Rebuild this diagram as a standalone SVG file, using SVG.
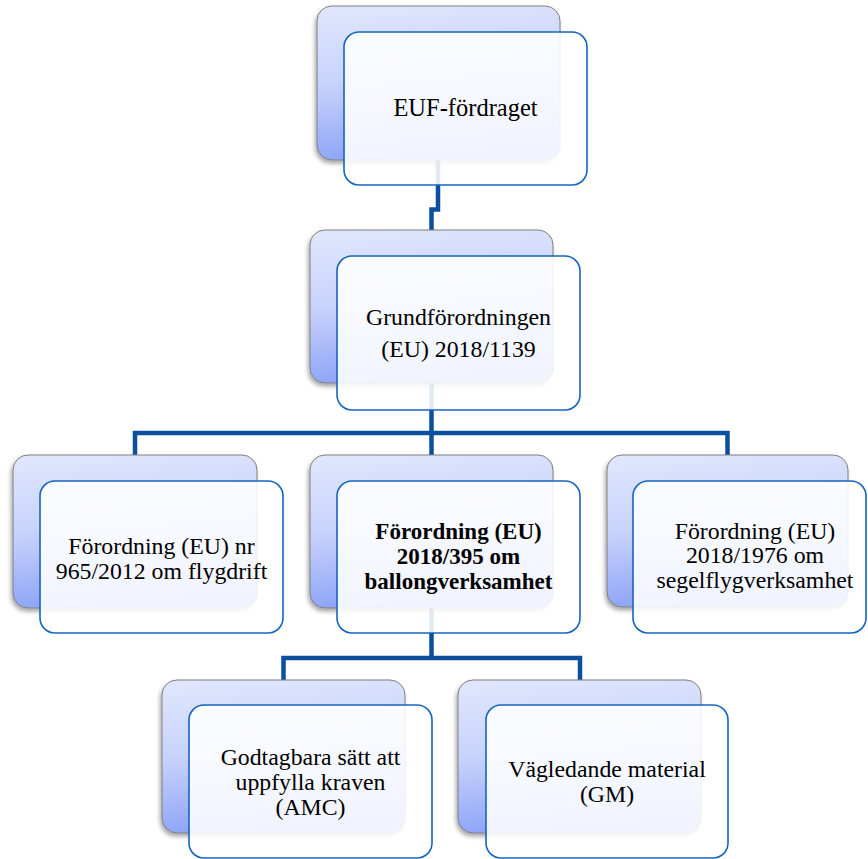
<svg xmlns="http://www.w3.org/2000/svg" width="868" height="859" viewBox="0 0 868 859">
<defs>
<linearGradient id="bg" x1="0" y1="0" x2="0.15" y2="1">
<stop offset="0" stop-color="#E1E7FD"/>
<stop offset="0.5" stop-color="#C8D3FB"/>
<stop offset="1" stop-color="#8EA4F8"/>
</linearGradient>
<filter id="sh" x="-10%" y="-10%" width="120%" height="125%">
<feDropShadow dx="-1.5" dy="3" stdDeviation="2" flood-color="#000" flood-opacity="0.35"/>
</filter>
</defs>
<style>
.back{fill:url(#bg);stroke:#7F7F7F;stroke-width:1;filter:url(#sh)}
.front{fill:#FFFFFF;fill-opacity:0.88;stroke:#1565C0;stroke-width:1.6}
.conn{fill:none;stroke:#0B4F9E;stroke-width:4.5;stroke-linejoin:miter}
text{font-family:"Liberation Serif","Times New Roman",serif;font-size:23.8px;fill:#000;text-anchor:middle}
.b{font-weight:bold;font-size:23px}
</style>
<rect width="868" height="859" fill="#FFFFFF"/>
<g id="connectors">
<path class="conn" d="M438,160 V209.5 H431.5 V230"/>
<path class="conn" d="M431.5,383 V433 M135,455 V433 H727.5 V455 M431.5,433 V455"/>
<path class="conn" d="M431.5,608 V658 M283.5,680 V658 H580 V680"/>
</g>
<g id="node-euf">
<rect class="back" x="317" y="6" width="243" height="154" rx="15"/>
<rect class="front" x="344" y="32" width="243" height="153" rx="15"/>
<text x="465.5" y="116" style="font-size:24.5px">EUF-fördraget</text>
</g>
<g id="node-grund">
<rect class="back" x="310" y="230" width="243" height="153" rx="15"/>
<rect class="front" x="337" y="256" width="243" height="154" rx="15"/>
<text x="458.5" y="325">Grundförordningen</text>
<text x="458.5" y="357">(EU) 2018/1139</text>
</g>
<g id="node-965">
<rect class="back" x="13" y="455" width="244" height="153" rx="15"/>
<rect class="front" x="40" y="481" width="243" height="152" rx="15"/>
<text x="161.5" y="554">Förordning (EU) nr</text>
<text x="161.5" y="579">965/2012 om flygdrift</text>
</g>
<g id="node-395">
<rect class="back" x="310" y="455" width="243" height="153" rx="15"/>
<rect class="front" x="337" y="481" width="243" height="152" rx="15"/>
<text class="b" x="458.5" y="539">Förordning (EU)</text>
<text class="b" x="458.5" y="564">2018/395 om</text>
<text class="b" x="458.5" y="589">ballongverksamhet</text>
</g>
<g id="node-1976">
<rect class="back" x="607" y="455" width="241" height="152" rx="15"/>
<rect class="front" x="633" y="481" width="233" height="152" rx="15"/>
<text x="755" y="539">Förordning (EU)</text>
<text x="755" y="563">2018/1976 om</text>
<text x="755" y="588">segelflygverksamhet</text>
</g>
<g id="node-amc">
<rect class="back" x="162" y="680" width="243" height="153" rx="15"/>
<rect class="front" x="189" y="705" width="243" height="153" rx="15"/>
<text x="310.5" y="765">Godtagbara sätt att</text>
<text x="310.5" y="790">uppfylla kraven</text>
<text x="310.5" y="815">(AMC)</text>
</g>
<g id="node-gm">
<rect class="back" x="458" y="680" width="243" height="153" rx="15"/>
<rect class="front" x="486" y="705" width="242" height="153" rx="15"/>
<text x="607" y="777">Vägledande material</text>
<text x="607" y="802">(GM)</text>
</g>
</svg>
